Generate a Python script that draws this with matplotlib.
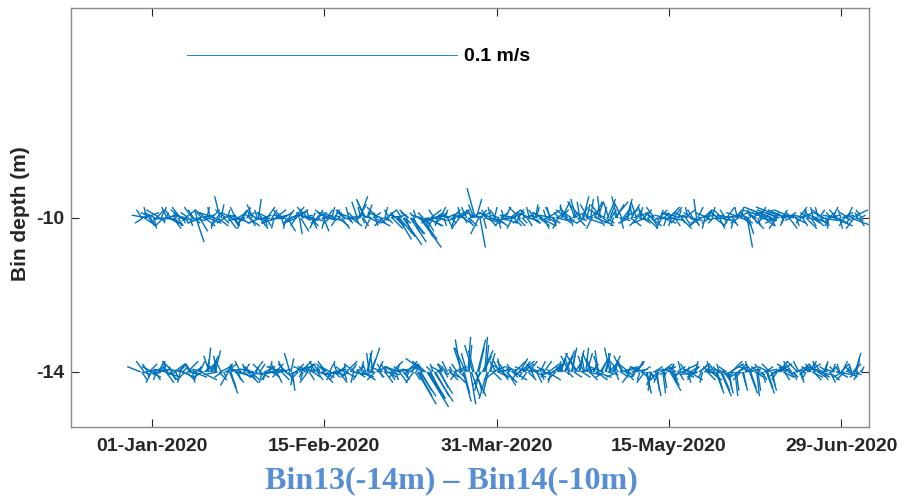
import numpy as np
import pandas as pd
import matplotlib
matplotlib.use('Agg')
import matplotlib.pyplot as plt
import matplotlib.dates as mdates
from matplotlib.collections import LineCollection

plt.rcParams['font.family'] = ['Liberation Sans', 'DejaVu Sans']
plt.rcParams['axes.unicode_minus'] = False

# current components (mm/s)
# "a" samples on the main time grid, "b" samples half a step later
# Bin14 (-10 m)
u14a = [4, -3, 5, -6, 2, 6, -4, 3, -5, 1, 5, -2, 4, -6, 3, -1, 6, -4, 2, -5,
        -3, 5, -2, 3, 6, -5, 2, -4, 5, -1, 3, -6, 4, -2, 5, -3, 1, 6, -4, 2,
        5, -4, 2, -6, 3, 4, -2, 6, -3, 1, -5, 3, 2, -4, 5, -1, 4, -6, 3, -2,
        -4, 3, 6, -2, 5, -5, 1, 4, -3, 6, -1, 2, -6, 4, -3, 5, 2, -4, 3, -5,
        3, -5, 4, -2, 6, -3, 2, 5, -6, 1, -2, 3, 1, -3, 2, 4, -4, 6, -1, 3,
        -5, 2, 4, -3, 6, -1, 3, 5, -4, 7, 2, -3, 6, 4, -2, 5, 8, -4, 3, 6,
        -3, 5, -2, 4, 3, -6, 1, 5, -4, 2, 6, -3, 4, -1, 3, -5, 2, 4, -2, -3,
        5, 2, -4, 6, -2, 3, -5, 1, 4, -3, 6, -1, 2, -4, 5, 3, -6, 2, -3, 4,
        -2, 4, -5, 3, 1, -3, 6, -4, 2, 5, -1, 3, -6, 4, -2, 3, 5, -4, 2, -3,
        4, -2, 3, -5, 2, 6, -3, 1, -4, 5, 2, -1, 4, -6, 3, 2, -3, 5, -2, 4,
        -3, 5, 2, -4, 3, 6, -2, 4, -1, 3, -5, 2, 4, -3, 6, -2, 1, 5, -4, 3,
        5, -4, 2, 3, -6, 1, 4, -2, 5, -3, 2, -1, 6, -4, 3, 2, -5, 4, -2, 3,
        -3, 4, 6, -2, 3, -5, 2, 5, -1, 4, -6, 3, 2, -4, 5, 1, -3, 6, -2, 4,
        -9, 3, -10, 2, -4, -8, 5, -1, -11, 3, -2, -7, 4, -3, 5, 2, -4, 6, -2, 3,
        5, -3, 2, 6, -4, 1, 4, -2, 7, -5, 3, -1, 4, 2, -3, 8, -2, 3, -1, 2]
v14a = [1, -2, 2, 1, -3, 0, 2, -1, 3, -2, 1, 4, -2, 0, -3, 2, -1, 3, -2, 1,
        2, -1, 3, -9, 1, -2, 0, 3, -2, 4, -1, 2, -3, 8, 1, -2, 3, -1, 2, -3,
        -2, 1, 3, -1, 2, -3, 1, 0, 2, 7, -2, 1, -3, 2, 0, -1, 3, -2, 1, 2,
        1, -5, 2, -1, 3, -2, -6, 1, 2, -1, 3, -4, 1, 2, -2, 0, -5, 3, -1, 2,
        -1, 2, -3, 1, 0, 3, -2, 1, 2, -1, 6, 8, -2, 7, 5, -2, 1, -3, 2, 0,
        2, -1, 3, -2, 1, 2, -3, -8, 1, -10, -2, 3, -9, -6, 2, -1, -11, 1, -7, -3,
        -2, 1, 3, -1, 2, 0, -3, 2, 1, -2, 3, -1, 2, 4, -2, 1, -3, 2, 3, 11,
        2, -11, 1, -2, 3, -1, 2, 4, -3, 1, -2, 3, 0, -1, 2, -3, 1, 3, -2, 1,
        3, -1, 2, -2, 5, 1, -3, 2, -1, 3, 4, -2, 1, -1, 2, 6, -2, 3, -1, 2,
        2, 7, -1, 6, 8, -2, 5, 7, 1, -2, 6, 8, -3, 3, 7, 5, -2, 6, 8, -1,
        6, 3, 7, -2, 5, 2, 6, -1, 4, 3, -2, 1, -3, 2, 0, -1, 3, -2, 1, 2,
        -1, 2, -3, 1, 2, -2, 3, 1, -1, 2, -3, 7, 1, -2, 3, -1, 2, 0, -2, 1,
        2, -1, 1, 3, -2, 1, -3, 2, 4, -1, 2, -2, -11, 1, 3, -2, 1, -1, 2, -3,
        3, -1, 4, 2, -2, 3, 1, -3, 4, 2, -1, 3, -2, 1, 2, -3, 1, -1, 3, -2,
        -2, 1, 3, -1, 2, -3, 1, 2, -3, 1, -2, 3, 1, -1, 2, -3, 1, -1, 2, 1]
u14b = [-2, 3, -1, 2, -4, 1, 3, -2, 2, -3, 1, 4, -2, 3, -1, 2, -3, 1, 4, -2,
        1, -3, 2, -1, 3, -2, 4, 1, -2, 3, -1, 2, -3, 1, 2, -4, 3, -1, 2, -2,
        3, -1, 2, -3, 1, 2, -2, 4, -1, 3, -2, 1, 3, -3, 2, -1, 4, -2, 1, 3,
        -1, 2, -3, 4, -2, 1, 3, -1, 2, -4, 3, 1, -2, 2, -3, 4, -1, 2, -2, 1,
        2, -2, 1, 3, -3, 2, -1, 4, -2, 1, 3, -1, 2, -3, 1, -2, 3, 1, -4, 2,
        -3, 1, 2, -2, 4, -1, 3, 5, -2, 4, 1, -3, 5, 2, -1, 4, 6, -2, 3, 5,
        4, -2, 3, -1, 2, -3, 1, 2, -2, 3, -1, 4, -3, 2, 1, -2, 3, -1, -2, 2,
        -3, 2, 1, -2, 3, -1, 4, -2, 1, 3, -3, 2, -1, 4, -2, 1, 3, -4, 2, -1,
        2, -1, 3, -2, 1, 4, -3, 2, -1, 3, -2, 1, 4, -2, 3, -1, 2, -3, 1, 2,
        -2, 3, -1, 2, -3, 1, 4, -2, 3, -1, 2, -4, 1, 3, -2, 2, -1, 3, -2, 1,
        3, -2, 1, 4, -1, 2, -3, 1, 3, -2, 4, -1, 2, -3, 1, 3, -2, 2, -1, 4,
        -1, 3, -2, 1, 4, -3, 2, -1, 3, -2, 1, 2, -4, 3, -1, 2, -3, 1, 4, -2,
        2, -3, 1, 3, -2, 4, -1, 2, -3, 1, 3, -2, 2, -1, 4, -3, 1, 2, -2, 3,
        -6, 2, -8, 1, -3, -5, 2, -1, -7, 3, -2, -4, 1, 3, -2, 1, 4, -3, 2, -1,
        3, -1, 2, -4, 1, 3, -2, 2, 5, -3, 1, 4, -2, 2, -1, 6, -3, 1, 2, -2]
v14b = [3, -2, 4, -3, 2, -4, 3, -1, 4, -3, 2, -2, 3, -4, 1, -3, 4, -2, 3, -1,
        -3, 4, -2, 3, -5, 2, -3, 4, -1, 3, -4, 2, -3, 5, -2, 3, -4, 1, -3, 4,
        2, -4, 3, -2, 4, -3, 5, -1, 3, -4, 2, -3, 4, -2, 3, -4, 1, 3, -3, 2,
        -4, 3, -2, 4, -3, 2, -5, 3, -1, 4, -3, 2, -4, 3, -2, 1, -4, 3, -2, 4,
        3, -3, 2, -4, 3, -1, 4, -3, 2, -2, 5, 4, -3, 6, 3, -4, 2, -3, 4, -2,
        -3, 4, -2, 3, -4, 2, -3, -6, 3, -7, -4, 2, -6, -5, 3, -2, -8, 2, -5, -3,
        3, -4, 2, -3, 4, -2, 3, -4, 1, 3, -3, 2, -4, 3, -2, 4, -3, 2, 5, 7,
        -6, 3, -4, 2, -3, 4, -2, 3, -4, 2, -3, 4, -1, 3, -4, 2, -3, 4, -2, 3,
        -3, 4, -2, 3, 4, -3, 2, -4, 3, -2, 4, -3, 2, -4, 3, 5, -2, 4, -3, 2,
        5, -3, 6, 4, -2, 5, 3, -4, 6, 2, -3, 5, 4, -2, 6, 3, -3, 5, 2, -4,
        4, -2, 5, -3, 4, 2, -3, 4, -2, 3, -4, 2, -3, 4, -2, 3, -4, 2, -3, 4,
        -3, 4, -2, 3, -4, 2, -3, 4, -2, 3, -1, 4, -3, 2, -4, 3, -2, 4, -3, 2,
        -4, 3, -2, 4, -3, 2, -4, 3, -2, 4, -3, 2, -6, 3, -4, 2, -3, 4, -2, 3,
        2, -3, 3, 1, -4, 2, 3, -2, 3, -4, 2, 1, -3, 4, -2, 3, -4, 2, -3, 4,
        -3, 4, -2, 3, -4, 2, -3, 4, -2, 3, -4, 2, -3, 4, -2, 3, -4, 2, -3, 3]
# Bin13 (-14 m)
u13a = [-5, 3, 6, -2, 4, -4, 2, 5, -3, 1, 6, -5, 3, -1, 4, -3, 2, 5, -6, 3,
        4, -2, 5, -3, 1, 6, -4, 2, 1, 3, -2, 2, -5, 4, -3, 6, 2, 3, -1, 5,
        -3, 5, -4, 2, 6, -2, 3, -5, 1, 4, -3, 6, -1, 2, 5, -4, 3, -2, 4, -6,
        3, -4, -2, 1, 5, -3, 6, -1, 4, -5, 2, 3, -6, 4, -2, 5, 1, -3, 6, -4,
        5, -2, 3, -6, 1, 4, -3, 2, 6, -4, 3, -1, 5, -2, 2, -1, 3, -5, 4, 2,
        -4, 6, -2, 3, 5, -3, 1, 4, -6, 2, 5, -1, 3, -4, 2, 7, 6, -3, -7, 8,
        6, -2, 7, 3, 5, -4, 2, -3, 4, -1, 5, -2, 3, -2, 3, -4, 1, 2, -3, 4,
        3, -2, 4, 1, -3, 2, 5, -4, 6, -2, 3, -5, 4, -1, 2, 5, -3, 6, -2, 4,
        -4, 3, 5, -2, 4, -6, 2, 3, -3, 5, -1, 4, -5, 2, 3, -2, 4, 1, -3, 2,
        3, -4, 2, 5, -2, 1, 4, -3, 2, 6, -1, 3, -5, 2, 4, -2, 3, 1, -4, 5,
        -3, 5, 2, -4, 6, -1, 3, -2, 4, -5, 2, 3, -1, 4, 2, -3, 5, 1, -2, 3,
        4, 2, -5, 3, -2, 6, -4, 1, 5, -3, 2, -6, 4, -1, 3, 5, -2, 4, -3, 3,
        -2, 4, 3, -5, 2, 5, -3, 1, 4, -4, 2, 6, -2, 3, -5, 4, 1, -3, 2, 5,
        3, -4, 2, 6, -3, 5, -1, 4, -2, 3, -5, 2, 6, -4, 1, 3, -2, 5, -3, 4,
        -2, 5, -4, 3, 1, -5, 4, 2, -3, 6, -1, 3, -4, 2, 5, -2, 3, 2, -3, 1]
v13a = [2, -1, 1, 3, -2, 2, -3, 1, 0, 4, -2, 1, -3, 2, 3, -1, 2, -2, 1, -3,
        -1, 3, -2, 1, 2, -3, 1, 2, 9, 6, 3, 8, -1, 2, -2, 1, 3, -8, 2, -1,
        2, -2, 1, 3, -1, 2, -3, 1, 2, -2, 3, 0, -3, 2, 1, -1, 3, -2, 1, 2,
        -2, 1, 7, -7, 2, -1, 3, -2, 1, 2, -3, 1, 2, -1, 3, -2, 1, 4, -1, 2,
        1, -3, 2, -1, 3, -2, 1, 2, -1, 3, -2, 1, -3, 2, 8, 7, 9, -1, 2, -2,
        2, -1, 3, -2, 1, 2, -3, 1, 2, -2, 3, -1, 2, 1, -3, -12, -9, 2, 5, -13,
        -10, 2, -11, 1, -8, 2, -1, 3, -2, 1, 2, -3, 1, 12, -11, 9, 13, -12, 10, -9,
        12, -7, 8, 13, -10, 7, 2, -3, 1, 4, -2, 3, -4, 2, 1, -3, 2, 4, -1, 3,
        2, -3, 1, 3, -2, 1, 4, -1, 2, -3, 1, 2, -1, 3, 7, 2, 8, -1, 6, 9,
        -2, 7, 8, 1, 6, 9, -1, 7, 3, -2, 8, 5, 2, 7, -1, 9, 6, 3, -2, 1,
        6, 2, -1, 3, 1, -2, 4, 1, -3, 2, -8, -2, -7, 1, -9, -3, 2, -8, -1, 2,
        -7, -3, 1, 2, -2, 3, -1, 2, -3, 1, 2, -1, 3, -2, 1, 0, 2, -3, 1, -8,
        2, -9, -2, 1, -8, 3, -1, -9, 2, -2, -7, 1, 3, -8, 2, -1, -9, 2, -3, 1,
        -8, 2, -7, 1, -2, 3, 1, -2, 2, -1, 3, -2, 1, 4, -3, 2, -1, 3, 2, -2,
        3, -1, 2, -2, 3, 1, -3, 2, 1, -1, 2, 3, -2, 1, -1, 2, 3, 7, -2, 1]
u13b = [2, -3, 1, 3, -2, 4, -1, 2, -3, 1, 3, -2, 2, -4, 1, 3, -1, 2, -3, 4,
        -2, 1, 3, -1, 2, -3, 4, 1, -2, 2, 1, -1, 3, -2, 1, 4, -3, 2, -1, 3,
        1, -2, 3, -1, 4, -2, 1, 3, -3, 2, -1, 4, -2, 1, 3, -1, 2, -4, 3, -2,
        -3, 2, 1, -1, 3, -2, 4, -1, 2, -3, 1, 3, -2, 2, -1, 4, -3, 1, 2, -2,
        2, -1, 3, -2, 1, 4, -3, 2, -1, 3, -2, 1, 4, -1, 1, 2, -1, -3, 2, 1,
        -2, 3, -1, 2, 4, -2, 1, 3, -3, 2, 4, -1, 2, -3, 1, 5, 4, -2, -5, 6,
        4, -1, 5, 2, 3, -2, 1, -2, 3, -1, 4, -2, 2, -3, 2, -2, 1, 3, -2, 2,
        2, -3, 3, 1, -2, 1, 3, -2, 4, -1, 2, -3, 3, -1, 2, 4, -2, 3, -1, 2,
        -2, 3, 1, -3, 2, -4, 1, 3, -2, 4, -1, 2, -3, 1, 2, -1, 3, 2, -2, 1,
        2, -3, 1, 3, -1, 2, 3, -2, 1, 4, -2, 2, -3, 1, 3, -1, 2, 1, -3, 3,
        -2, 3, 1, -3, 4, -1, 2, -1, 3, -3, 1, 2, -2, 3, 1, -2, 4, 1, -1, 2,
        3, 1, -3, 2, -1, 4, -2, 1, 3, -2, 1, -4, 3, -1, 2, 3, -1, 2, -2, 2,
        -1, 3, 2, -3, 1, 4, -2, 1, 3, -3, 1, 4, -1, 2, -3, 3, 1, -2, 1, 3,
        2, -3, 1, 4, -2, 3, -1, 2, -1, 2, -3, 1, 4, -2, 1, 2, -1, 3, -2, 3,
        -1, 3, -2, 2, 1, -3, 2, 1, -2, 4, -1, 2, -3, 1, 3, -1, 2, 1, -2, 1]
v13b = [-3, 4, -2, 3, -4, 2, -3, 4, -1, 3, -4, 2, -3, 4, -2, 3, -4, 2, -3, 4,
        3, -4, 2, -3, 4, -2, 3, 5, 6, 4, 5, 6, -3, 4, -2, 3, -5, -6, 3, -4,
        -3, 4, -2, 3, -4, 2, -3, 4, -2, 3, -4, 2, -3, 4, -2, 3, -4, 2, -3, 4,
        3, -4, 5, -5, 3, -2, 4, -3, 2, -4, 3, -2, 4, -3, 2, -4, 3, -2, 4, -3,
        -2, 3, -4, 2, -3, 4, -2, 3, -4, 2, -3, 4, -2, 3, 6, 5, 7, -3, 4, -2,
        3, -4, 2, -3, 4, -2, 3, -4, 2, -3, 4, -2, 3, -4, 2, -9, -7, 3, 4, -10,
        -8, 3, -9, 2, -6, 3, -2, 4, -3, 2, -4, 3, -2, 9, -8, 7, 10, -9, 8, -7,
        9, -5, 6, 10, -8, 5, -3, 4, -2, 5, -3, 4, -5, 3, -2, 4, -3, 5, -2, 4,
        -3, 4, -2, 3, -4, 2, -3, 4, -2, 3, -4, 2, -3, 4, 5, 3, 6, -2, 5, 7,
        3, 5, 6, -2, 5, 7, -3, 5, 4, -3, 6, 4, -2, 5, 3, 7, 4, -3, 4, -2,
        4, -3, 2, -4, 3, -2, 4, -3, 2, -4, -6, -3, -5, 2, -7, -4, 3, -6, -2, 3,
        -5, -4, 2, -3, 4, -2, 3, -4, 2, -3, 4, -2, 3, -4, 2, -3, 4, -2, 3, -6,
        3, -7, -3, 2, -6, 4, -2, -7, 3, -3, -5, 2, 4, -6, 3, -2, -7, 3, -4, 2,
        -6, 3, -5, 2, -3, 4, 2, -3, 3, -2, 4, -3, 2, 4, -4, 3, -2, 4, 3, -3,
        4, -2, 3, -3, 4, 2, -4, 3, 2, -2, 3, 4, -3, 2, -2, 3, 4, 5, -3, 2]

times_a = pd.date_range('2019-12-29', '2020-07-04', periods=300)
times_b = times_a + (times_a[1] - times_a[0]) / 2
tick_dates = pd.to_datetime(['2020-01-01', '2020-02-15', '2020-03-31',
                             '2020-05-15', '2020-06-29'])
depths = [-14, -10]
stick_color = '#0072BD'

fig = plt.figure(figsize=(9.04, 4.98), dpi=100)
ax = fig.add_axes([0.0785, 0.1426, 0.8828, 0.8414])

jan1 = mdates.date2num(pd.Timestamp('2020-01-01'))
ax.set_xlim(jan1 - 21.2, jan1 + 187.3)
ax.set_ylim(-15.43, -4.55)

# same pixel length for a given speed in x and y
days_per_ms = 705.0
pos = ax.get_position()
px_per_day = fig.get_figwidth() * fig.dpi * pos.width / (187.3 + 21.2)
px_per_unit = fig.get_figheight() * fig.dpi * pos.height / (15.43 - 4.55)
units_per_ms = days_per_ms * px_per_day / px_per_unit

sets = [(-14, times_a, u13a, v13a), (-14, times_b, u13b, v13b),
        (-10, times_a, u14a, v14a), (-10, times_b, u14b, v14b)]
for d, tt, u, v in sets:
    t = mdates.date2num(tt)
    u = np.array(u) / 1000.0
    v = np.array(v) / 1000.0
    segs = [[(ti, d), (ti + ui * days_per_ms, d + vi * units_per_ms)]
            for ti, ui, vi in zip(t, u, v)]
    ax.add_collection(LineCollection(segs, colors=stick_color, linewidths=1.0))

# scale bar
bar_x = jan1 + 9.1
ax.plot([bar_x, bar_x + 0.1 * days_per_ms], [-5.77, -5.77],
        color=stick_color, lw=0.6)
ax.text(bar_x + 0.1 * days_per_ms + 1.8, -5.80, '0.1 m/s', fontsize=14,
        fontweight='bold', ha='left', va='center', color='black')

ax.set_xticks(mdates.date2num(tick_dates))
ax.xaxis.set_major_formatter(mdates.DateFormatter('%d-%b-%Y'))
ax.set_yticks(depths)
ax.tick_params(direction='in', length=6, width=0.8, color='#262626',
               top=True, right=True, labelsize=14, labelcolor='#262626')
ax.tick_params(axis='x', pad=8)
ax.tick_params(axis='y', pad=5)
for lab in ax.get_xticklabels() + ax.get_yticklabels():
    lab.set_fontweight('bold')
for s in ax.spines.values():
    s.set_color('#8a8a8a')
    s.set_linewidth(1.0)

ax.set_ylabel('Bin depth (m)', fontsize=15, fontweight='bold', color='#262626')
ax.yaxis.set_label_coords(-0.051, 0.51)

fig.text(0.499, 0.035, 'Bin13(-14m) \u2013 Bin14(-10m)', fontsize=23,
         fontweight='bold', color='#558ED5', ha='center', va='center',
         family=['Liberation Serif', 'DejaVu Serif'])

fig.savefig('out.png', dpi=100)
